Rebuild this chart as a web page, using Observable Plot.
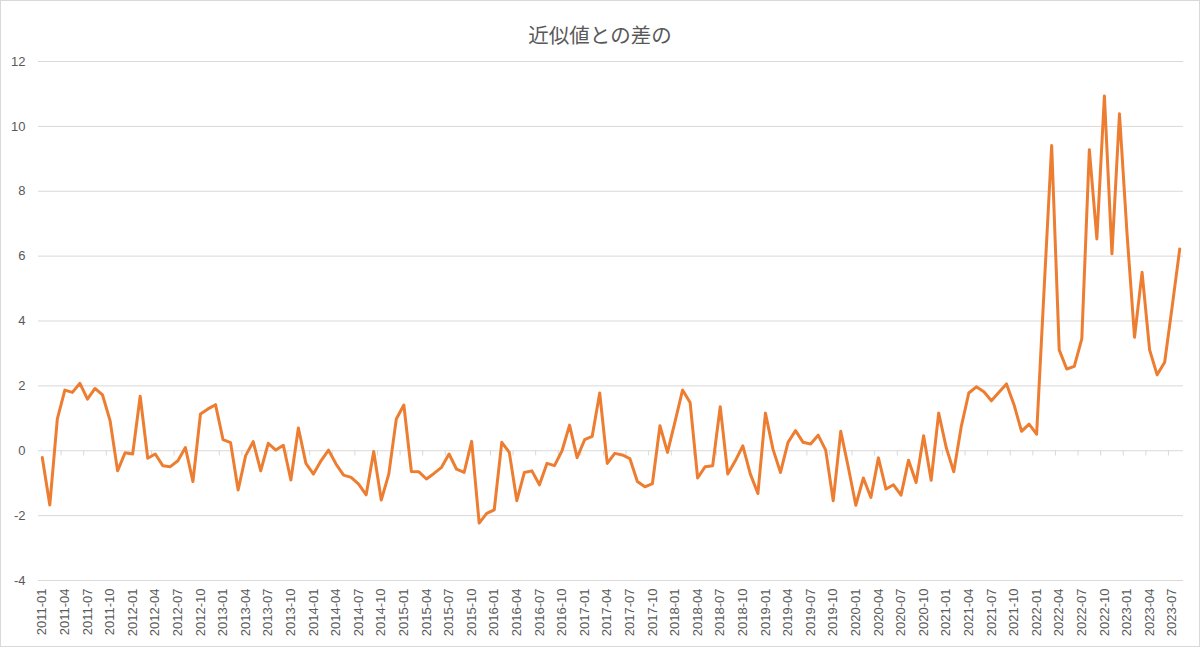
<!DOCTYPE html>
<html>
<head>
<meta charset="utf-8">
<script src="https://cdn.jsdelivr.net/npm/d3@7"></script>
<script src="https://cdn.jsdelivr.net/npm/@observablehq/plot@0.6"></script>
<style>
  html, body { margin: 0; padding: 0; background: #fff; }
  #chart svg { display: block; outline: 1px solid #d9d9d9; outline-offset: -1px; }
</style>
</head>
<body>
<div id="chart"></div>
<script>
const title = "近似値との差の";
const startYear = 2011;
const values = [
  -0.21, -1.67, 0.98, 1.87, 1.80, 2.08, 1.59, 1.92, 1.72, 0.93, -0.62, -0.06,
  -0.10, 1.68, -0.23, -0.10, -0.46, -0.49, -0.31, 0.10, -0.95, 1.13, 1.29, 1.42,
  0.34, 0.25, -1.21, -0.15, 0.28, -0.62, 0.23, 0.02, 0.17, -0.90, 0.70, -0.39,
  -0.72, -0.31, 0.02, -0.41, -0.75, -0.82, -1.03, -1.36, -0.02, -1.52, -0.72, 0.98,
  1.41, -0.64, -0.65, -0.87, -0.70, -0.51, -0.10, -0.57, -0.67, 0.29, -2.23, -1.93,
  -1.82, 0.26, -0.05, -1.54, -0.67, -0.62, -1.05, -0.39, -0.46, 0.00, 0.79, -0.21,
  0.34, 0.44, 1.78, -0.39, -0.08, -0.13, -0.24, -0.95, -1.11, -1.01, 0.77, -0.05,
  0.90, 1.87, 1.49, -0.84, -0.49, -0.46, 1.36, -0.72, -0.31, 0.15, -0.72, -1.32,
  1.16, 0.05, -0.67, 0.26, 0.62, 0.26, 0.21, 0.48, 0.02, -1.54, 0.60, -0.51,
  -1.68, -0.84, -1.44, -0.22, -1.18, -1.05, -1.37, -0.29, -0.98, 0.46, -0.91, 1.16,
  0.10, -0.65, 0.75, 1.78, 1.97, 1.82, 1.54, 1.80, 2.06, 1.42, 0.60, 0.82,
  0.51, 5.00, 9.41, 3.11, 2.52, 2.60, 3.45, 9.28, 6.53, 10.94, 6.07, 10.39,
  6.70, 3.50, 5.50, 3.11, 2.34, 2.73, 4.45, 6.22
];
const tickLabels = [
  "2011-01","2011-04","2011-07","2011-10","2012-01","2012-04","2012-07","2012-10",
  "2013-01","2013-04","2013-07","2013-10","2014-01","2014-04","2014-07","2014-10",
  "2015-01","2015-04","2015-07","2015-10","2016-01","2016-04","2016-07","2016-10",
  "2017-01","2017-04","2017-07","2017-10","2018-01","2018-04","2018-07","2018-10",
  "2019-01","2019-04","2019-07","2019-10","2020-01","2020-04","2020-07","2020-10",
  "2021-01","2021-04","2021-07","2021-10","2022-01","2022-04","2022-07","2022-10",
  "2023-01","2023-04","2023-07"
];
const yTicks = [-4, -2, 0, 2, 4, 6, 8, 10, 12];

// month categories for each value
const months = values.map((_, i) =>
  `${startYear + Math.floor(i / 12)}-${String(i % 12 + 1).padStart(2, "0")}`);
const data = values.map((v, i) => ({i, month: months[i], v}));
const tickIdx = tickLabels.map(l => months.indexOf(l));
const boundaryIdx = tickIdx.map(i => i - 0.5).filter(i => i > 0);
const n = values.length;

const chart = Plot.plot({
  width: 1200,
  height: 647,
  marginLeft: 38,
  marginRight: 17,
  marginTop: 61,
  marginBottom: 67,
  style: {fontFamily: "'Liberation Sans', Arial, sans-serif", fontSize: "13px", color: "#595959", background: "#fff"},
  x: {domain: [-0.5, n - 0.5], axis: null},
  y: {domain: [-4, 12], axis: null},
  marks: [
    Plot.gridY(yTicks, {stroke: "#d9d9d9", strokeOpacity: 1, strokeWidth: 1}),
    Plot.ruleX(boundaryIdx, {y1: 0, y2: -0.16, stroke: "#d9d9d9", strokeWidth: 1}),
    Plot.axisY(yTicks, {tickSize: 0, tickPadding: 13, tickFormat: d => String(d),
      color: "#595959", fontSize: 13, label: null}),
    Plot.axisX(tickIdx, {anchor: "bottom", tickSize: 0, tickPadding: 8, tickRotate: -90,
      tickFormat: i => months[i], color: "#595959", fontSize: 13, label: null}),
    Plot.line(data, {x: "i", y: "v", stroke: "#ED7D31", strokeWidth: 3,
      strokeLinejoin: "round", strokeLinecap: "round"}),
    Plot.text([title], {frameAnchor: "top", dx: -11, dy: -33, text: d => d,
      fontSize: 20.5, fill: "#595959", fontFamily: "'Noto Sans CJK JP', sans-serif"})
  ]
});
document.getElementById("chart").appendChild(chart);
</script>
</body>
</html>
